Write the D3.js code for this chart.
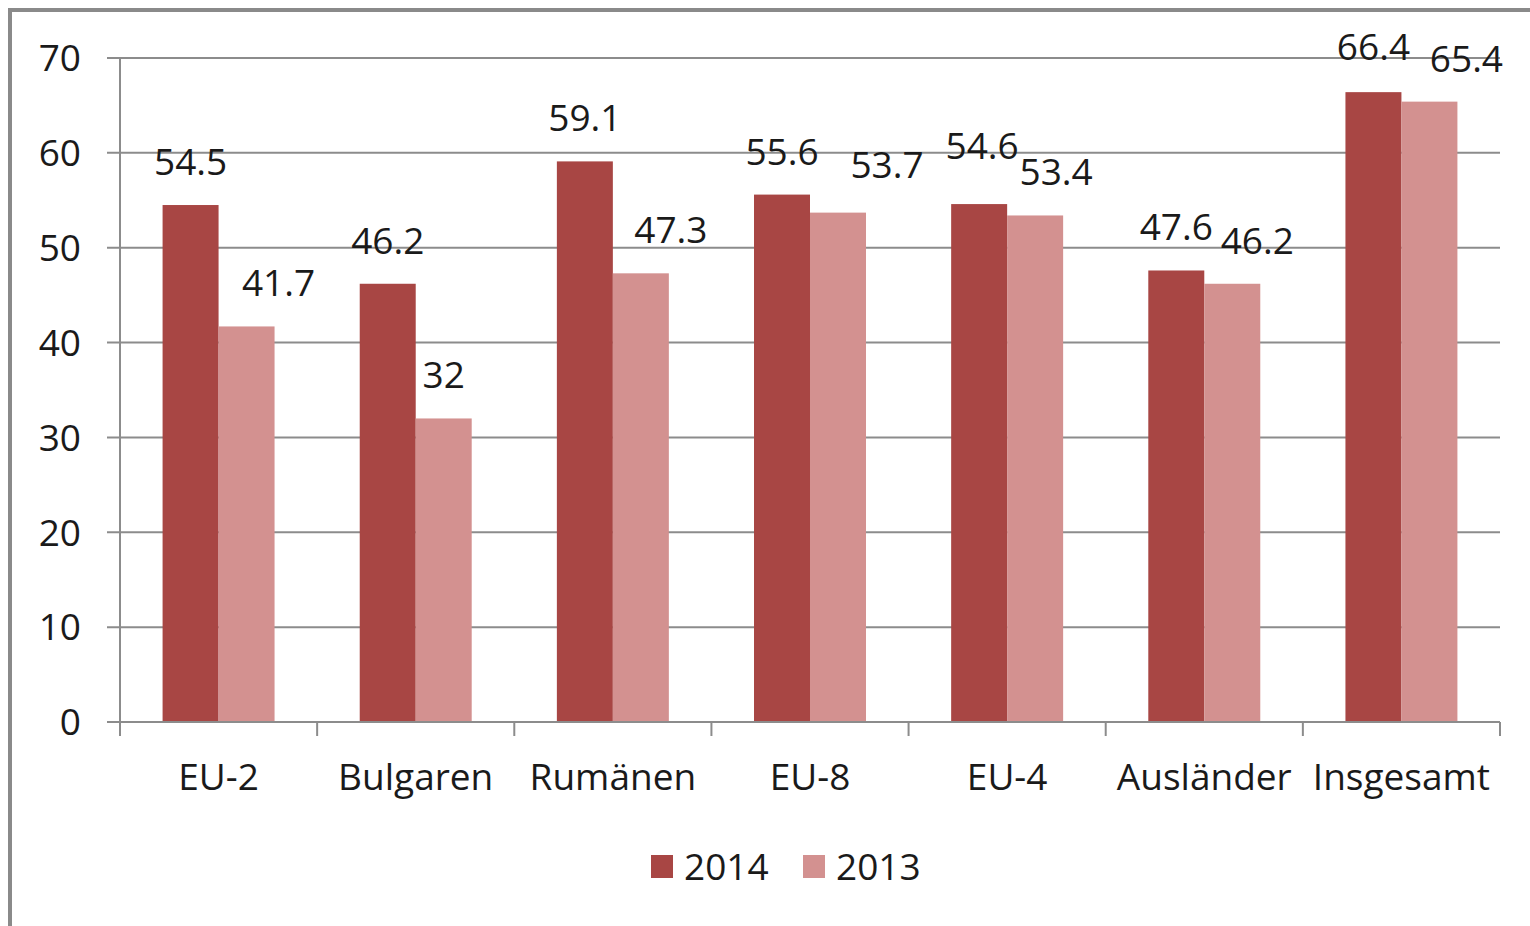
<!DOCTYPE html>
<html>
<head>
<meta charset="utf-8">
<script src="https://cdn.jsdelivr.net/npm/d3@7"></script>
<style>
  body { margin: 0; background: #fff; }
  text { font-family: "Open Sans", sans-serif; fill: #1a1a1a; }
</style>
</head>
<body>
<script>
var categories = ["EU-2", "Bulgaren", "Rumänen", "EU-8", "EU-4", "Ausländer", "Insgesamt"];
var seriesNames = ["2014", "2013"];
var values2014 = [54.5, 46.2, 59.1, 55.6, 54.6, 47.6, 66.4];
var values2013 = [41.7, 32, 47.3, 53.7, 53.4, 46.2, 65.4];
var yTicks = [0, 10, 20, 30, 40, 50, 60, 70];
var colors = ["#a84644", "#d39190"];

// labels that were dragged by hand in the original (px)
var nudge2014 = [[0, 0], [0, 0], [0, 0], [0, 0], [3, -15], [0, 0], [0, -2]];
var nudge2013 = [[32, 0], [0, 0], [30, 0], [49, -5], [21, 0], [25, 0], [37, 0]];

var width = 1530, height = 926;
var plotLeft = 120, plotRight = 1500, plotTop = 58, plotBottom = 722;

var svg = d3.select("body").append("svg")
  .attr("width", width)
  .attr("height", height);

svg.append("rect")
  .attr("x", 10).attr("y", 10)
  .attr("width", 1540).attr("height", 1000)
  .attr("fill", "none")
  .attr("stroke", "#8a8a8a")
  .attr("stroke-width", 4);

var x0 = d3.scaleBand()
  .domain(categories)
  .range([plotLeft, plotRight])
  .paddingInner(0.432)
  .paddingOuter(0.216);

var x1 = d3.scaleBand()
  .domain(seriesNames)
  .range([0, x0.bandwidth()]);

var y = d3.scaleLinear()
  .domain([0, 70])
  .range([plotBottom, plotTop]);

// gridlines
svg.selectAll(".grid")
  .data(yTicks.filter(function(d) { return d > 0; }))
  .enter().append("line")
  .attr("x1", plotLeft - 13).attr("x2", plotRight)
  .attr("y1", function(d) { return y(d); })
  .attr("y2", function(d) { return y(d); })
  .attr("stroke", "#8c8c8c")
  .attr("stroke-width", 2);

// y axis
svg.append("line")
  .attr("x1", plotLeft).attr("x2", plotLeft)
  .attr("y1", plotTop).attr("y2", plotBottom)
  .attr("stroke", "#8c8c8c").attr("stroke-width", 2);

svg.selectAll(".ylab")
  .data(yTicks)
  .enter().append("text")
  .attr("x", 81)
  .attr("y", function(d) { return y(d); })
  .attr("dy", "0.36em")
  .attr("text-anchor", "end")
  .style("font-size", "37px")
  .text(function(d) { return d; });

var rows = categories.map(function(c, i) {
  return { cat: c, vals: [values2014[i], values2013[i]], nudge: [nudge2014[i], nudge2013[i]] };
});

var groups = svg.selectAll(".group")
  .data(rows)
  .enter().append("g")
  .attr("transform", function(d) { return "translate(" + x0(d.cat) + ",0)"; });

groups.selectAll("rect")
  .data(function(d) { return d.vals.map(function(v, j) { return { key: seriesNames[j], v: v, j: j }; }); })
  .enter().append("rect")
  .attr("x", function(d) { return x1(d.key); })
  .attr("width", x1.bandwidth())
  .attr("y", function(d) { return y(d.v); })
  .attr("height", function(d) { return y(0) - y(d.v); })
  .attr("fill", function(d) { return colors[d.j]; });

groups.selectAll(".val")
  .data(function(d) { return d.vals.map(function(v, j) { return { key: seriesNames[j], v: v, n: d.nudge[j] }; }); })
  .enter().append("text")
  .attr("x", function(d) { return x1(d.key) + x1.bandwidth() / 2 + d.n[0]; })
  .attr("y", function(d) { return y(d.v) - 30 + d.n[1]; })
  .attr("text-anchor", "middle")
  .style("font-size", "37px")
  .text(function(d) { return d.v; });

// x axis
svg.append("line")
  .attr("x1", plotLeft - 13).attr("x2", plotRight)
  .attr("y1", plotBottom).attr("y2", plotBottom)
  .attr("stroke", "#8c8c8c").attr("stroke-width", 2);

var bounds = categories.map(function(c) { return x0(c) - x0.step() * x0.paddingOuter(); });
bounds.push(plotRight);
svg.selectAll(".xtick")
  .data(bounds)
  .enter().append("line")
  .attr("x1", function(d) { return d; }).attr("x2", function(d) { return d; })
  .attr("y1", plotBottom).attr("y2", plotBottom + 14)
  .attr("stroke", "#8c8c8c").attr("stroke-width", 2);

svg.selectAll(".xlab")
  .data(categories)
  .enter().append("text")
  .attr("x", function(d) { return x0(d) + x0.bandwidth() / 2; })
  .attr("y", 790)
  .attr("text-anchor", "middle")
  .style("font-size", "37px")
  .text(function(d) { return d; });

// legend
var legendX = [651, 803];
var legend = svg.selectAll(".legend")
  .data(seriesNames)
  .enter().append("g")
  .attr("transform", function(d, i) { return "translate(" + legendX[i] + ",855)"; });

legend.append("rect")
  .attr("width", 22).attr("height", 23)
  .attr("fill", function(d, i) { return colors[i]; });

legend.append("text")
  .attr("x", 33).attr("y", 25)
  .style("font-size", "37px")
  .text(function(d) { return d; });
</script>
</body>
</html>
